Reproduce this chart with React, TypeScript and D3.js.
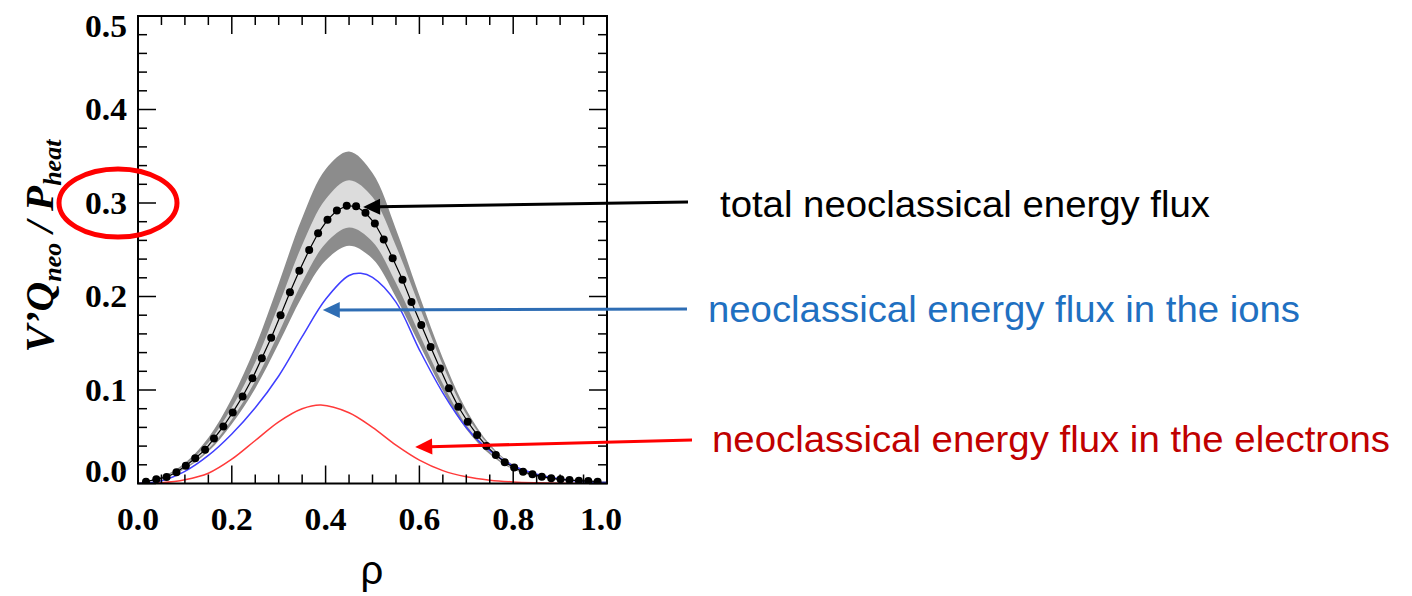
import React from "react";
import * as d3 from "d3";

// ---- data ----
// total neoclassical energy flux (black dots)
const totalRho = [0.017,0.039,0.061,0.082,0.102,0.122,0.143,0.162,0.182,0.202,0.223,0.244,0.264,0.284,0.304,0.324,0.344,0.365,0.384,0.404,0.424,0.445,0.465,0.485,0.505,0.524,0.543,0.564,0.583,0.604,0.624,0.644,0.663,0.683,0.703,0.723,0.743,0.763,0.782,0.802,0.821,0.841,0.861,0.881,0.901,0.920,0.940,0.960,0.980];
const totalVal = [0.002,0.0045,0.007,0.012,0.019,0.027,0.036,0.048,0.061,0.076,0.093,0.1125,0.134,0.156,0.180,0.2045,0.2276,0.2497,0.2676,0.282,0.292,0.297,0.2965,0.2895,0.278,0.261,0.241,0.218,0.194,0.1695,0.146,0.123,0.102,0.082,0.066,0.052,0.040,0.0305,0.0227,0.017,0.0126,0.0098,0.0073,0.0055,0.0045,0.0037,0.003,0.0027,0.002];

// uncertainty bands
const bandRho = [0,0.05,0.1,0.15,0.2,0.25,0.3,0.35,0.4,0.45,0.5,0.55,0.6,0.65,0.7,0.75,0.8,0.85,0.9,0.95,1.0];
const outerHigh = [0.001,0.007,0.022,0.049,0.091,0.146,0.214,0.284,0.336,0.355,0.332,0.272,0.201,0.134,0.079,0.042,0.020,0.010,0.005,0.0034,0.0023];
const innerHigh = [0.001,0.006,0.0196,0.0436,0.0812,0.1297,0.1908,0.255,0.304,0.3243,0.3063,0.254,0.1897,0.1264,0.0741,0.0398,0.0192,0.0095,0.0049,0.0032,0.0022];
const innerLow = [0.0009,0.0051,0.0166,0.0368,0.0685,0.1095,0.161,0.2153,0.2567,0.2737,0.2585,0.2144,0.16,0.1067,0.0626,0.0336,0.0162,0.008,0.0041,0.0027,0.0018];
const outerLow = [0.0009,0.0047,0.0154,0.0342,0.0637,0.1017,0.1496,0.2001,0.2385,0.2544,0.2403,0.1992,0.1488,0.0992,0.0581,0.0312,0.015,0.0074,0.0038,0.0025,0.0017];

// ions (blue)
const ionRho = [0,0.05,0.1,0.15,0.2,0.25,0.3,0.35,0.4,0.45,0.475,0.5,0.55,0.6,0.65,0.7,0.75,0.8,0.85,0.9,0.95,1.0];
const ionVal = [0,0.003,0.013,0.030,0.053,0.081,0.115,0.157,0.197,0.2225,0.2248,0.2205,0.194,0.143,0.097,0.060,0.035,0.019,0.010,0.005,0.002,0.001];

// electrons (red)
const eleRho = [0,0.05,0.1,0.15,0.2,0.25,0.3,0.35,0.39,0.45,0.5,0.55,0.6,0.65,0.7,0.75,0.8,0.85,0.9,0.95,1.0];
const eleVal = [0,0.0008,0.004,0.011,0.026,0.046,0.066,0.080,0.084,0.0757,0.060,0.041,0.025,0.0138,0.0072,0.0036,0.0017,0.0008,0.0003,0.0001,0];

// axis ticks
const xMajor = [0, 0.2, 0.4, 0.6, 0.8, 1.0];
const xLabels = ["0.0", "0.2", "0.4", "0.6", "0.8", "1.0"];
const yMajor = [0, 0.1, 0.2, 0.3, 0.4, 0.5];
const yLabels = ["0.0", "0.1", "0.2", "0.3", "0.4", "0.5"];

// annotations: tip of each arrow in data coords
const annoText = ["total neoclassical energy flux", "neoclassical energy flux in the ions", "neoclassical energy flux in the electrons"];
const annoTipRho = [0.48, 0.394, 0.591];
const annoTipVal = [0.2957, 0.1855, 0.039];

export default function App() {
  const W = 1412, H = 596;
  const x = d3.scaleLinear().domain([0, 1]).range([138, 607]);
  const y = d3.scaleLinear().domain([0, 0.5]).range([483.5, 16]);
  const [x0, x1] = x.range();
  const [yb, yt] = y.range();

  const mk = (r: number[], v: number[]) => r.map((rr, i) => ({ r: rr, v: v[i] }));
  const bandOuter = bandRho.map((r, i) => ({ r, lo: outerLow[i], hi: outerHigh[i] }));
  const bandInner = bandRho.map((r, i) => ({ r, lo: innerLow[i], hi: innerHigh[i] }));

  const area = d3.area<any>()
    .x((d) => x(d.r)).y0((d) => y(d.lo)).y1((d) => y(d.hi))
    .curve(d3.curveCatmullRom.alpha(0.5));
  const line = d3.line<any>().x((d) => x(d.r)).y((d) => y(d.v)).curve(d3.curveCatmullRom.alpha(0.5));
  const lineLin = d3.line<any>().x((d) => x(d.r)).y((d) => y(d.v));

  const total = mk(totalRho, totalVal);

  const yMinor = d3.range(0, 0.5001, 0.02);
  const xMinor = d3.range(0, 1.0001, 0.05);

  const serif = "'Liberation Serif', 'Times New Roman', serif";
  const sans = "'Liberation Sans', Arial, Helvetica, sans-serif";

  // label layout (pixel positions for annotation texts)
  const labelPos = [
    { x: 720, y: 217, w: 490, color: "#000000", arrow: "#000000", tail: [688, 202] },
    { x: 708, y: 322, w: 592, color: "#1f70c1", arrow: "#2e6db4", tail: [687, 309] },
    { x: 712, y: 452, w: 678, color: "#c00000", arrow: "#ff0000", tail: [692, 440] },
  ];

  const arrow = (tx: number, ty: number, hx: number, hy: number, color: string, key: number) => {
    const dx = hx - tx, dy = hy - ty;
    const len = Math.hypot(dx, dy);
    const ux = dx / len, uy = dy / len;
    const hl = 17, hw = 8;
    const bx = hx - ux * hl, by = hy - uy * hl;
    const px = -uy, py = ux;
    return (
      <g key={key}>
        <line x1={tx} y1={ty} x2={bx + ux * 2} y2={by + uy * 2} stroke={color} strokeWidth={3} />
        <polygon
          points={`${hx},${hy} ${bx + px * hw},${by + py * hw} ${bx - px * hw},${by - py * hw}`}
          fill={color}
        />
      </g>
    );
  };

  return (
    <svg width={W} height={H} style={{ position: "absolute", left: 0, top: 0, background: "#fff" }}>
      <rect x={0} y={0} width={W} height={H} fill="#fff" />
      <defs>
        <clipPath id="plot">
          <rect x={x0} y={yt} width={x1 - x0} height={yb - yt} />
        </clipPath>
      </defs>

      <g clipPath="url(#plot)">
        <path d={area(bandOuter) || ""} fill="#8c8c8c" />
        <path d={area(bandInner) || ""} fill="#dcdcdc" />
        <path d={line(mk(eleRho, eleVal)) || ""} fill="none" stroke="#ff3a3a" strokeWidth={1.5} />
        <path d={line(mk(ionRho, ionVal)) || ""} fill="none" stroke="#3f3fff" strokeWidth={1.5} />
        <path d={lineLin(total) || ""} fill="none" stroke="#000" strokeWidth={1.2} />
        {total.map((d, i) => (
          <circle key={i} cx={x(d.r)} cy={y(d.v)} r={4} fill="#000" />
        ))}
      </g>

      {/* frame */}
      <rect x={x0} y={yt} width={x1 - x0} height={yb - yt} fill="none" stroke="#000" strokeWidth={2} />

      {/* y ticks */}
      {yMinor.map((v, i) => {
        const major = i % 5 === 0;
        const L = major ? 18 : 9;
        return (
          <g key={"yt" + i} stroke="#000" strokeWidth={1.5}>
            <line x1={x0} x2={x0 + L} y1={y(v)} y2={y(v)} />
            <line x1={x1} x2={x1 - L} y1={y(v)} y2={y(v)} />
          </g>
        );
      })}
      {/* x ticks */}
      {xMinor.map((v, i) => {
        const major = i % 4 === 0;
        const L = major ? 18 : 9;
        return (
          <g key={"xt" + i} stroke="#000" strokeWidth={1.5}>
            <line x1={x(v)} x2={x(v)} y1={yb} y2={yb - L} />
            <line x1={x(v)} x2={x(v)} y1={yt} y2={yt + L} />
          </g>
        );
      })}

      {/* y tick labels */}
      {yMajor.map((v, i) => {
        const nudge = i === 0 ? -12 : i === yMajor.length - 1 ? 10 : 0;
        return (
          <text
            key={"yl" + i}
            x={127}
            y={y(v) + 10.5 + nudge}
            textAnchor="end"
            fontFamily={serif}
            fontWeight="bold"
            fontSize={31}
            fill="#000"
            textLength={42}
            lengthAdjust="spacingAndGlyphs"
          >
            {yLabels[i]}
          </text>
        );
      })}
      {/* x tick labels */}
      {xMajor.map((v, i) => {
        const nudge = i === xMajor.length - 1 ? -6 : 0;
        return (
          <text
            key={"xl" + i}
            x={x(v) + nudge - 21}
            y={530}
            fontFamily={serif}
            fontWeight="bold"
            fontSize={31}
            fill="#000"
            textLength={42}
            lengthAdjust="spacingAndGlyphs"
          >
            {xLabels[i]}
          </text>
        );
      })}

      {/* axis titles */}
      <text
        transform="translate(53,246) rotate(-90)"
        textAnchor="middle"
        fontFamily={serif}
        fontWeight="bold"
        fontStyle="italic"
        fontSize={41}
        fill="#000"
      >
        <tspan>V’Q</tspan>
        <tspan fontSize={26} dy={8}>neo</tspan>
        <tspan dy={-8}> / P</tspan>
        <tspan fontSize={26} dy={8}>heat</tspan>
      </text>
      <text x={372} y={584} textAnchor="middle" fontFamily={sans} fontSize={40} fill="#000">ρ</text>

      {/* annotations */}
      {labelPos.map((p, i) => (
        <g key={"an" + i}>
          {arrow(p.tail[0], p.tail[1], x(annoTipRho[i]), y(annoTipVal[i]), p.arrow, i)}
          <text
            x={p.x}
            y={p.y}
            fontFamily={sans}
            fontSize={36}
            fill={p.color}
            textLength={p.w}
            lengthAdjust="spacingAndGlyphs"
          >
            {annoText[i]}
          </text>
        </g>
      ))}

      {/* red highlight ellipse around 0.3 */}
      <ellipse cx={118} cy={y(0.3)} rx={59} ry={34} fill="none" stroke="#ff0000" strokeWidth={5} />
    </svg>
  );
}
